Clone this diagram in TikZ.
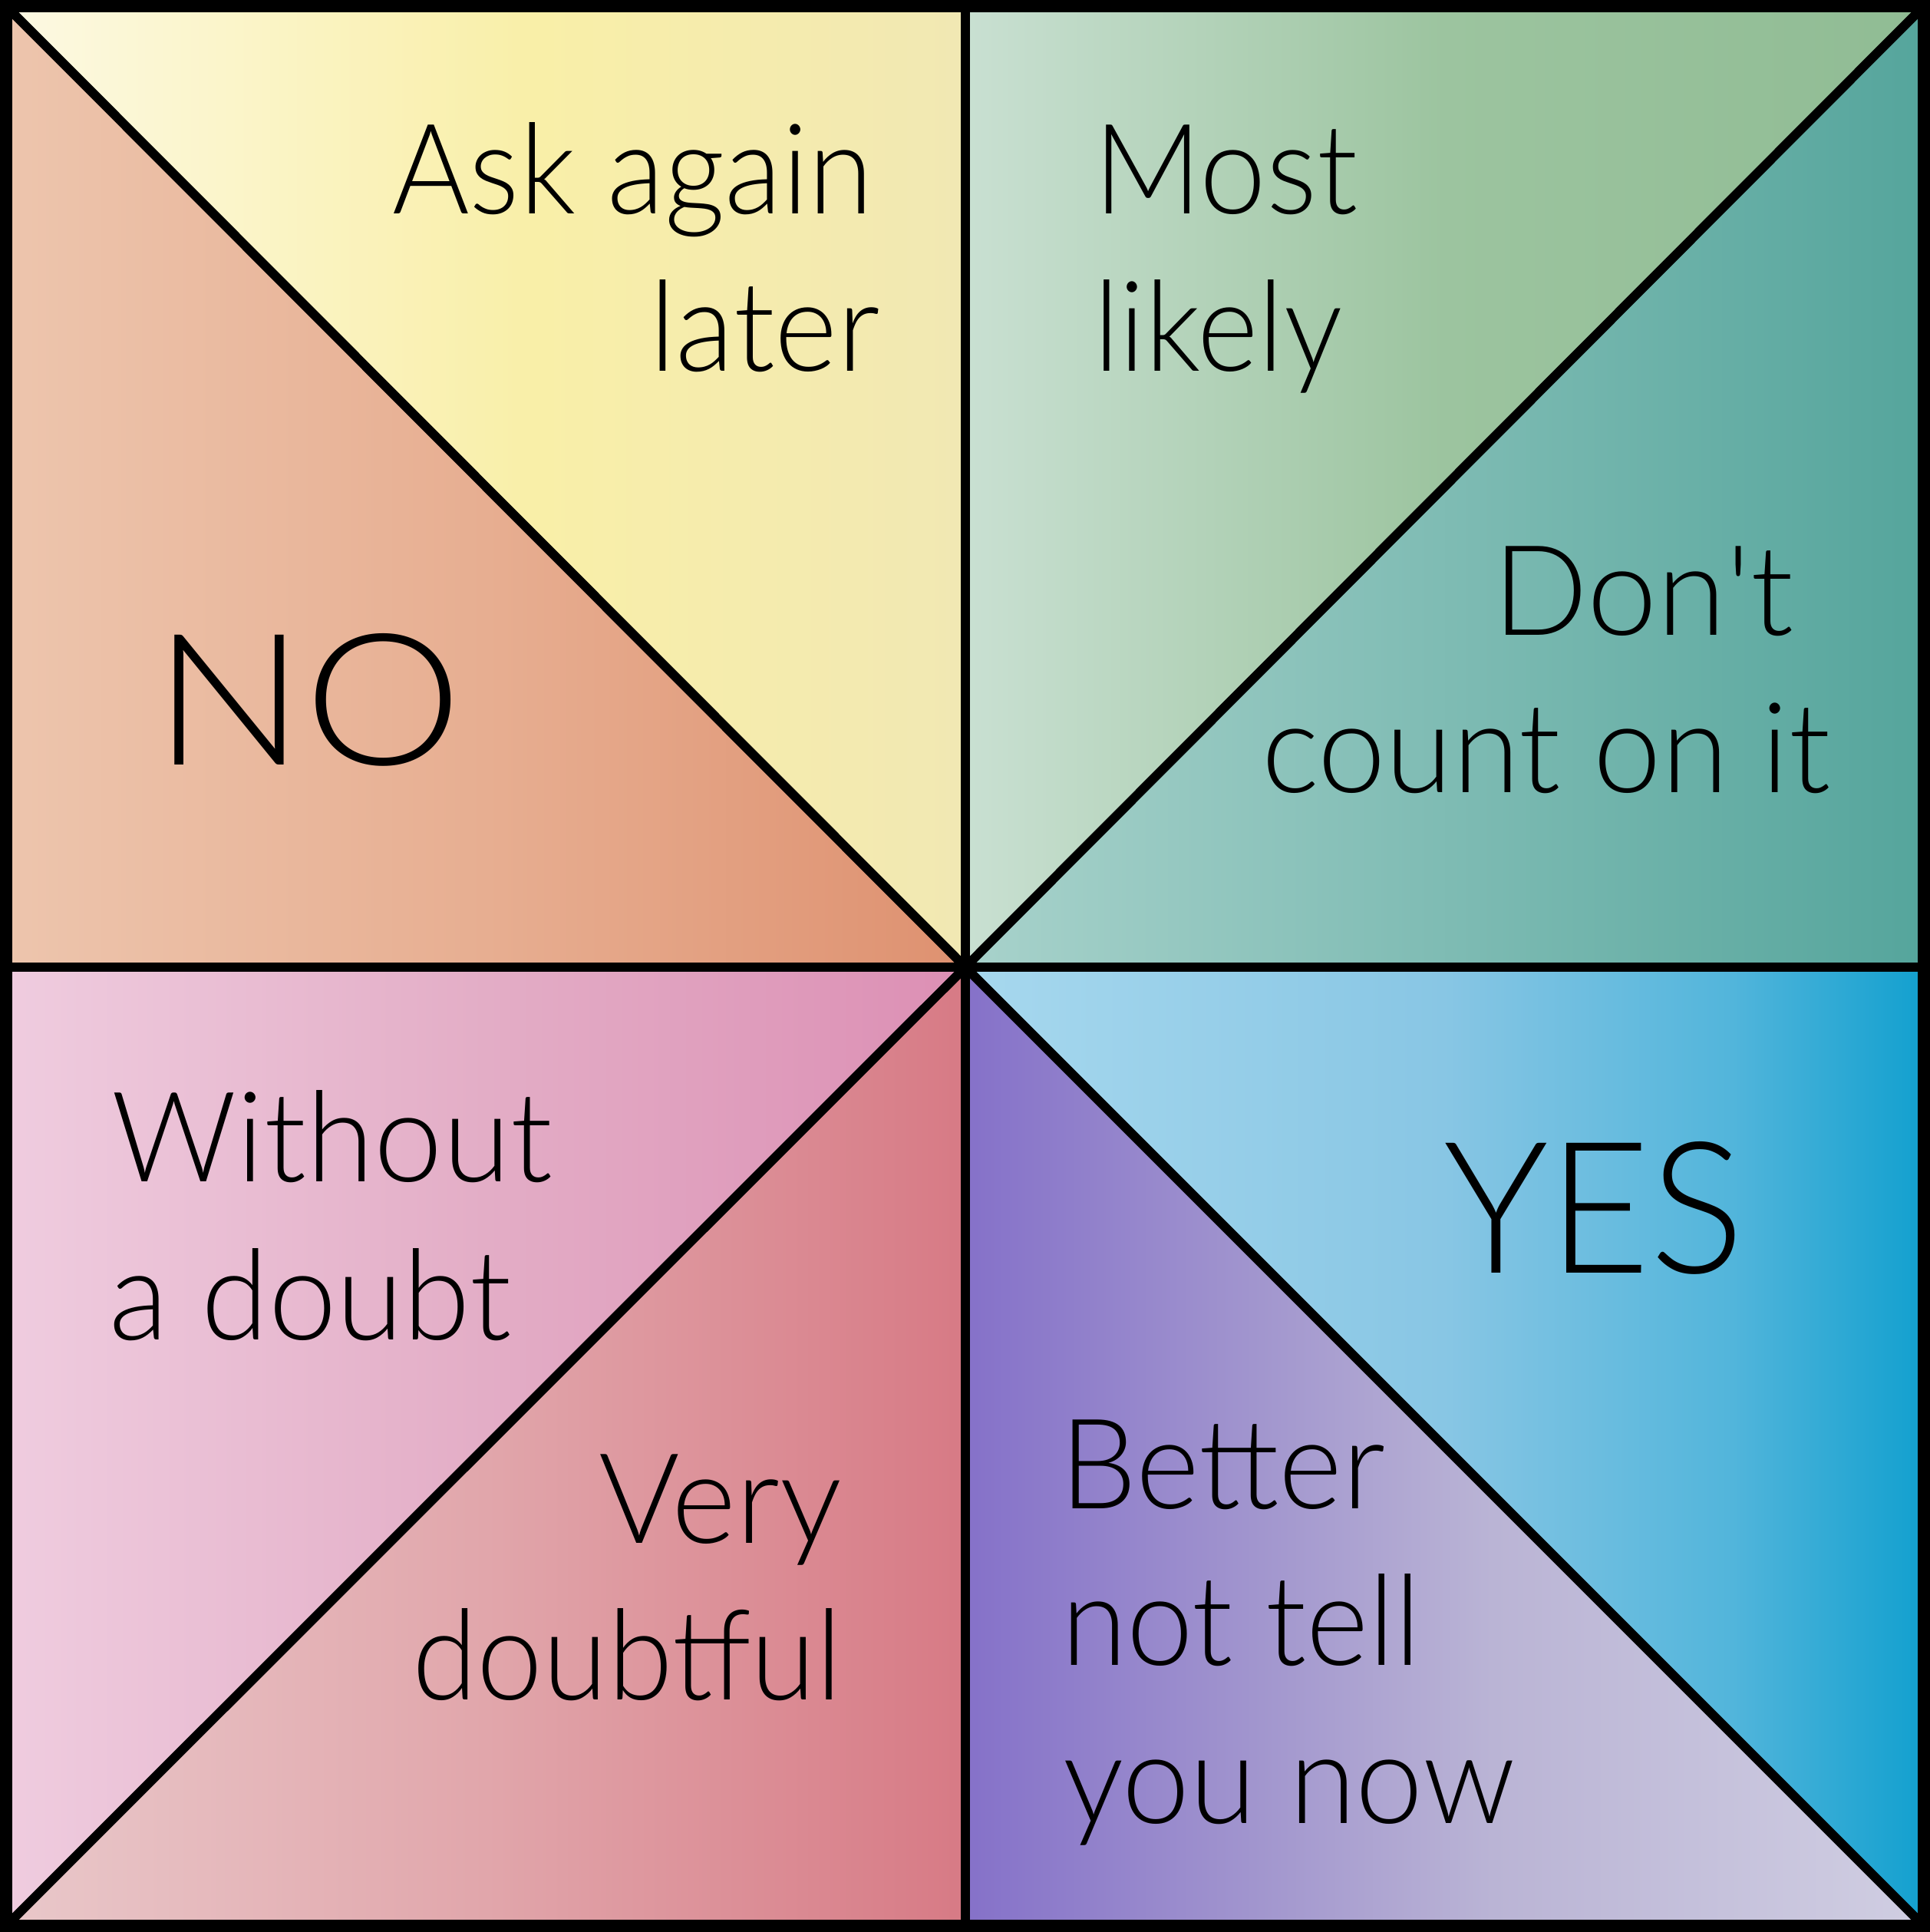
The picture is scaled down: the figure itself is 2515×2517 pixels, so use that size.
\documentclass[tikz,border=0pt]{standalone}
\usepackage{fontspec}
\usepackage{graphicx}
\setmainfont{Lato Light}
\newfontfamily\latolight{Lato Light}
\newcommand\hsq[2]{\scalebox{#1}[1]{#2}}
\definecolor{noA}{HTML}{EDC5AD}\definecolor{noB}{HTML}{E7AE91}\definecolor{noC}{HTML}{DE9170}
\definecolor{akA}{HTML}{FCF9E3}\definecolor{akB}{HTML}{F9EFA8}\definecolor{akC}{HTML}{F1E8B3}
\definecolor{mlA}{HTML}{C9E0D2}\definecolor{mlB}{HTML}{9CC49F}\definecolor{mlC}{HTML}{90BC94}
\definecolor{dcA}{HTML}{A8D2CB}\definecolor{dcC}{HTML}{55A59C}
\definecolor{wdA}{HTML}{EFCCDF}\definecolor{wdB}{HTML}{E3ADC6}\definecolor{wdC}{HTML}{DC8FB4}
\definecolor{vdA}{HTML}{E9C8CA}\definecolor{vdB}{HTML}{E1A6AB}\definecolor{vdC}{HTML}{D77A85}
\definecolor{ysA}{HTML}{A7D8EE}\definecolor{ysB}{HTML}{88C6E4}\definecolor{ysC}{HTML}{52B5DB}\definecolor{ysD}{HTML}{12A0CF}
\definecolor{btA}{HTML}{8571C9}\definecolor{btB}{HTML}{A195CE}\definecolor{btC}{HTML}{BAB4D5}\definecolor{btD}{HTML}{D0CEE2}
\pgfdeclarehorizontalshading{shNO}{100bp}{color(0bp)=(noA); color(25bp)=(noA); color(50bp)=(noB); color(75bp)=(noC); color(100bp)=(noC)}
\pgfdeclarehorizontalshading{shAK}{100bp}{color(0bp)=(akA); color(25bp)=(akA); color(52.5bp)=(akB); color(75bp)=(akC); color(100bp)=(akC)}
\pgfdeclarehorizontalshading{shML}{100bp}{color(0bp)=(mlA); color(25bp)=(mlA); color(50bp)=(mlB); color(75bp)=(mlC); color(100bp)=(mlC)}
\pgfdeclarehorizontalshading{shDC}{100bp}{color(0bp)=(dcA); color(25bp)=(dcA); color(75bp)=(dcC); color(100bp)=(dcC)}
\pgfdeclarehorizontalshading{shWD}{100bp}{color(0bp)=(wdA); color(25bp)=(wdA); color(50bp)=(wdB); color(75bp)=(wdC); color(100bp)=(wdC)}
\pgfdeclarehorizontalshading{shVD}{100bp}{color(0bp)=(vdA); color(25bp)=(vdA); color(50bp)=(vdB); color(75bp)=(vdC); color(100bp)=(vdC)}
\pgfdeclarehorizontalshading{shYS}{100bp}{color(0bp)=(ysA); color(25bp)=(ysA); color(50bp)=(ysB); color(65bp)=(ysC); color(75bp)=(ysD); color(100bp)=(ysD)}
\pgfdeclarehorizontalshading{shBT}{100bp}{color(0bp)=(btA); color(25bp)=(btA); color(40bp)=(btB); color(52.5bp)=(btC); color(75bp)=(btD); color(100bp)=(btD)}
\tikzset{
  msg/.style={inner sep=0pt, outer sep=0pt, font=\latolight\fontsize{46.5}{56}\selectfont},
  big/.style={inner sep=0pt, outer sep=0pt, font=\latolight\fontsize{68}{80}\selectfont},
  border/.style={line width=0.16cm, black},
  divider/.style={line width=0.12cm, black},
}
\begin{document}
\begin{tikzpicture}[x=0.01cm,y=-0.01cm]
\useasboundingbox (0,0) rectangle (2515,2517);
\coordinate (A) at (8,8);
\coordinate (B) at (1258,8);
\coordinate (C) at (2507,8);
\coordinate (D) at (8,1260);
\coordinate (O) at (1258,1260);
\coordinate (E) at (2507,1260);
\coordinate (G) at (8,2509);
\coordinate (F) at (1258,2509);
\coordinate (H) at (2507,2509);
% triangles
\shade[shading=shNO] (A) -- (O) -- (D) -- cycle;
\shade[shading=shAK] (A) -- (B) -- (O) -- cycle;
\shade[shading=shML] (B) -- (C) -- (O) -- cycle;
\shade[shading=shDC] (C) -- (E) -- (O) -- cycle;
\shade[shading=shWD] (D) -- (O) -- (G) -- cycle;
\shade[shading=shVD] (O) -- (F) -- (G) -- cycle;
\shade[shading=shYS] (O) -- (E) -- (H) -- cycle;
\shade[shading=shBT] (O) -- (H) -- (F) -- cycle;
% lines
\draw[divider] (B) -- (F);
\draw[divider] (D) -- (E);
\draw[divider] (A) -- (O) -- (H);
\draw[divider] (G) -- (O) -- (C);
\draw[border] (A) rectangle (H);
% texts
\node[msg, anchor=base east] (ask1) at (1138,278) {\hsq{0.94}{Ask again}};
\node[msg, anchor=base east] (ask2) at (1147,483) {\hsq{0.96}{later}};
\node[msg, anchor=base west] (most1) at (1425,278) {\hsq{0.95}{Most}};
\node[msg, anchor=base west] (most2) at (1425,483) {\hsq{0.93}{likely}};
\node[msg, anchor=base east] (dont1) at (2337,827) {Don't};
\node[msg, anchor=base east] (dont2) at (2385,1032) {\hsq{0.97}{count on it}};
\node[big, anchor=base west] (no) at (200,996) {\hsq{1.09}{NO}};
\node[msg, anchor=base west] (with1) at (146,1539) {\hsq{0.98}{Without}};
\node[msg, anchor=base west] (with2) at (143,1745) {\hsq{0.97}{a doubt}};
\node[msg, anchor=base east] (very1) at (1097,2010) {\hsq{0.985}{Very}};
\node[msg, anchor=base east] (very2) at (1097,2214) {\hsq{0.94}{doubtful}};
\node[big, anchor=base west] (yes) at (1881,1658) {\hsq{0.96}{YES}};
\node[msg, anchor=base west] (bet1) at (1381,1965) {\hsq{0.97}{Better}};
\node[msg, anchor=base west] (bet2) at (1383,2169) {\hsq{0.95}{not tell}};
\node[msg, anchor=base west] (bet3) at (1385,2375) {\hsq{0.965}{you now}};
\end{tikzpicture}
\end{document}
